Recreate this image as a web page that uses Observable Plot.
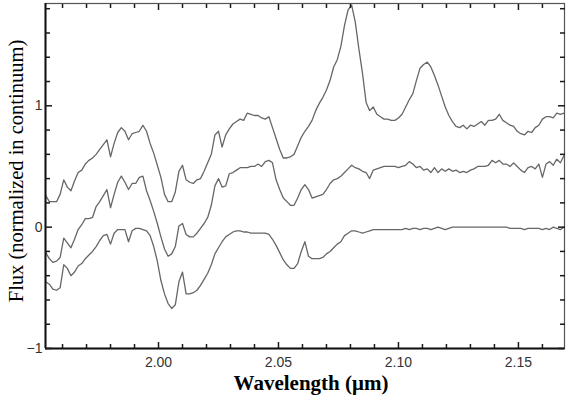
<!DOCTYPE html>
<html><head><meta charset="utf-8">
<script src="https://cdn.jsdelivr.net/npm/d3@7"></script>
<script src="https://cdn.jsdelivr.net/npm/@observablehq/plot@0.6"></script>
<style>body{margin:0;background:#fff;}</style>
</head><body><div id="chart"></div>
<script>
const wavelength = [
1.953,1.9545,1.956,1.9575,1.959,1.9605,1.962,1.9635,1.965,1.9665,
1.968,1.9695,1.971,1.9725,1.974,1.9755,1.977,1.9785,1.980,1.9815,
1.983,1.9845,1.986,1.9875,1.989,1.9905,1.992,1.9935,1.995,1.9965,
1.998,1.9995,2.001,2.0025,2.004,2.0055,2.007,2.0085,2.010,2.0115,
2.013,2.0145,2.016,2.0175,2.019,2.0205,2.022,2.0235,2.025,2.0265,
2.028,2.0295,2.031,2.0325,2.034,2.0355,2.037,2.0385,2.040,2.0415,
2.043,2.0445,2.046,2.0475,2.049,2.0505,2.052,2.0535,2.055,2.0565,
2.058,2.0595,2.061,2.0625,2.064,2.0655,2.067,2.0685,2.070,2.0715,
2.073,2.0745,2.076,2.0775,2.079,2.0805,2.082,2.0835,2.085,2.0865,
2.088,2.0895,2.091,2.0925,2.094,2.0955,2.097,2.0985,2.100,2.1015,
2.103,2.1045,2.106,2.1075,2.109,2.1105,2.112,2.1135,2.115,2.1165,
2.118,2.1195,2.121,2.1225,2.124,2.1255,2.127,2.1285,2.130,2.1315,
2.133,2.1345,2.136,2.1375,2.139,2.1405,2.142,2.1435,2.145,2.1465,
2.148,2.1495,2.151,2.1525,2.154,2.1555,2.157,2.1585,2.160,2.1615,
2.163,2.1645,2.166,2.1675,2.169];

const fluxTop = [
0.26,0.21,0.21,0.21,0.27,0.39,0.33,0.30,0.38,0.45,
0.47,0.52,0.55,0.57,0.60,0.64,0.68,0.72,0.58,0.69,
0.78,0.82,0.79,0.72,0.77,0.78,0.79,0.84,0.79,0.69,
0.61,0.51,0.41,0.27,0.21,0.21,0.29,0.46,0.51,0.39,
0.37,0.36,0.39,0.40,0.46,0.53,0.60,0.76,0.79,0.66,
0.76,0.81,0.85,0.87,0.89,0.88,0.94,0.93,0.92,0.92,
0.90,0.89,0.91,0.82,0.73,0.64,0.57,0.57,0.58,0.60,
0.67,0.74,0.79,0.83,0.88,0.96,1.02,1.07,1.13,1.21,
1.32,1.38,1.49,1.66,1.79,1.83,1.69,1.47,1.27,1.03,
0.96,0.99,0.93,0.91,0.89,0.89,0.88,0.88,0.90,0.93,
0.99,1.05,1.10,1.21,1.31,1.34,1.36,1.32,1.25,1.17,
1.08,0.99,0.92,0.87,0.83,0.82,0.84,0.81,0.84,0.83,
0.85,0.87,0.84,0.88,0.88,0.89,0.93,0.88,0.86,0.84,
0.83,0.79,0.77,0.76,0.79,0.78,0.82,0.84,0.89,0.91,
0.91,0.90,0.94,0.93,0.94];

const fluxMiddle = [
-0.21,-0.26,-0.29,-0.28,-0.25,-0.09,-0.13,-0.17,-0.10,-0.02,
0.02,0.07,0.07,0.08,0.17,0.21,0.26,0.31,0.16,0.27,
0.37,0.42,0.37,0.31,0.36,0.36,0.41,0.42,0.30,0.22,
0.13,0.03,-0.08,-0.18,-0.24,-0.22,-0.16,0.01,0.03,-0.06,
-0.08,-0.08,-0.05,-0.01,0.03,0.08,0.18,0.34,0.40,0.33,
0.34,0.44,0.45,0.47,0.49,0.49,0.49,0.50,0.50,0.52,
0.50,0.54,0.55,0.53,0.39,0.31,0.24,0.21,0.18,0.18,
0.24,0.31,0.35,0.31,0.24,0.25,0.26,0.27,0.31,0.36,
0.39,0.40,0.42,0.45,0.48,0.51,0.49,0.48,0.46,0.45,
0.40,0.47,0.48,0.49,0.50,0.50,0.50,0.50,0.49,0.50,
0.51,0.54,0.52,0.49,0.50,0.47,0.48,0.45,0.49,0.45,
0.48,0.46,0.48,0.46,0.47,0.45,0.46,0.45,0.47,0.48,
0.50,0.50,0.50,0.51,0.55,0.53,0.55,0.52,0.52,0.50,
0.53,0.50,0.47,0.45,0.49,0.50,0.48,0.52,0.41,0.52,
0.54,0.51,0.56,0.53,0.59];

const fluxBottom = [
-0.45,-0.47,-0.51,-0.52,-0.50,-0.31,-0.34,-0.40,-0.37,-0.32,
-0.30,-0.26,-0.23,-0.20,-0.16,-0.11,-0.07,-0.06,-0.14,-0.05,
-0.02,-0.02,-0.02,-0.12,-0.03,-0.01,-0.01,-0.02,-0.03,-0.07,
-0.16,-0.28,-0.44,-0.55,-0.63,-0.67,-0.64,-0.45,-0.37,-0.55,
-0.55,-0.54,-0.52,-0.48,-0.43,-0.38,-0.31,-0.22,-0.17,-0.12,
-0.08,-0.06,-0.04,-0.03,-0.03,-0.04,-0.04,-0.05,-0.05,-0.05,
-0.05,-0.05,-0.06,-0.10,-0.15,-0.21,-0.27,-0.31,-0.34,-0.34,
-0.30,-0.20,-0.12,-0.24,-0.26,-0.26,-0.26,-0.25,-0.22,-0.20,
-0.17,-0.14,-0.12,-0.07,-0.05,-0.03,-0.03,-0.04,-0.05,-0.04,
-0.03,-0.02,-0.02,-0.02,-0.02,-0.02,-0.02,-0.02,-0.02,-0.02,
-0.01,-0.02,-0.01,-0.01,-0.02,-0.01,-0.01,-0.02,-0.01,0.00,
-0.01,-0.02,-0.01,0.00,0.00,0.00,0.00,0.00,0.00,0.00,
0.00,0.00,0.00,0.00,0.00,0.00,0.00,0.00,0.00,-0.01,
-0.01,-0.01,-0.01,-0.02,-0.01,-0.01,-0.01,-0.01,-0.02,-0.01,
-0.02,0.00,-0.01,-0.02,0.00];

const xDomain = [1.9529, 2.1692];
const yDomain = [-1, 1.843];
const xMajor = [2.00, 2.05, 2.10, 2.15];
const xMinor = [1.96,1.97,1.98,1.99,2.01,2.02,2.03,2.04,2.06,2.07,2.08,2.09,2.11,2.12,2.13,2.14,2.16];
const yMajor = [-1, 0, 1];
const yMinor = [-0.8,-0.6,-0.4,-0.2,0.2,0.4,0.6,0.8,1.2,1.4,1.6,1.8];
const xLabel = "Wavelength (μm)";
const yLabel = "Flux (normalized in continuum)";

const seriesList = [["top", fluxTop], ["middle", fluxMiddle], ["bottom", fluxBottom]];
const rows = seriesList.flatMap(([name, f]) => wavelength.map((w, i) => ({series: name, wavelength: w, flux: f[i]})));

const W = 568, H = 404, mt = 3, mb = 56, ml = 45, mr = 4;
const tickColor = "#1a1a1a";
const tickW = 1.5;
const serif = "'Liberation Serif', 'Times New Roman', serif";
const noText = () => "";

// inward ticks: drawn by axis marks, shifted back inside the frame
function inwardX(ticks, size) {
  return [
    Plot.axisX({anchor: "bottom", ticks, tickSize: size, dy: -size, tickFormat: noText, fill: "none", label: null, stroke: tickColor, strokeWidth: tickW}),
    Plot.axisX({anchor: "top", ticks, tickSize: size, dy: size, tickFormat: noText, fill: "none", label: null, stroke: tickColor, strokeWidth: tickW})
  ];
}
function inwardY(ticks, size) {
  return [
    Plot.axisY({anchor: "left", ticks, tickSize: size, dx: size, tickFormat: noText, fill: "none", label: null, stroke: tickColor, strokeWidth: tickW}),
    Plot.axisY({anchor: "right", ticks, tickSize: size, dx: -size, tickFormat: noText, fill: "none", label: null, stroke: tickColor, strokeWidth: tickW})
  ];
}

const chart = Plot.plot({
  width: W, height: H,
  marginTop: mt, marginBottom: mb, marginLeft: ml, marginRight: mr,
  style: {fontFamily: "'Liberation Sans', Arial, sans-serif", background: "#fff"},
  x: {domain: xDomain, label: null},
  y: {domain: yDomain, label: null},
  marks: [
    Plot.line(rows, {x: "wavelength", y: "flux", z: "series", stroke: "#666", strokeWidth: 1.3}),
    Plot.frame({stroke: "#555", strokeWidth: 1.2}),
    Plot.ruleX([xDomain[0]], {stroke: "#111", strokeWidth: 2}),
    Plot.ruleY([yDomain[0]], {stroke: "#111", strokeWidth: 2}),
    ...inwardX(xMajor, 6),
    ...inwardX(xMinor, 4),
    ...inwardY(yMajor, 7),
    ...inwardY(yMinor, 5),
    Plot.axisX({ticks: xMajor, tickSize: 0, tickFormat: d3.format(".2f"), fontSize: 14, fill: "#333", label: null}),
    Plot.axisY({ticks: yMajor, tickSize: 0, tickPadding: 3, tickFormat: d3.format("d"), fontSize: 14, fill: "#333", label: null}),
    Plot.text([xLabel], {frameAnchor: "bottom", dx: 6, dy: 41, fontSize: 21, fontWeight: "bold", fontFamily: serif, fill: "#000"}),
    Plot.text([yLabel], {frameAnchor: "left", textAnchor: "middle", dx: -29, dy: -5, rotate: -90, fontSize: 20.5, fontFamily: serif, fill: "#000"})
  ]
});
document.getElementById("chart").appendChild(chart);
</script>
</body></html>
